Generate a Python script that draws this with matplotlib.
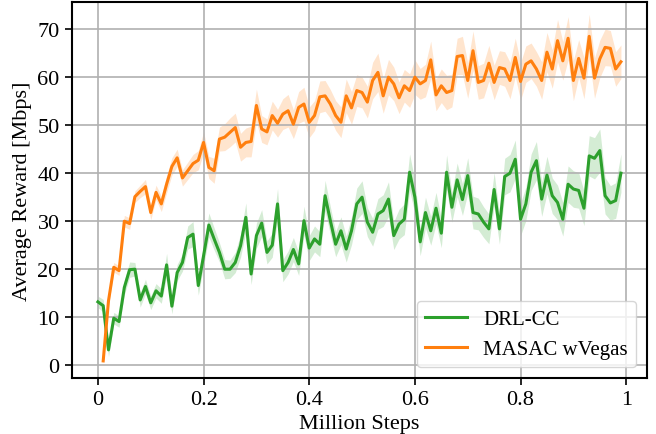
import numpy as np
import matplotlib
matplotlib.use('Agg')
import matplotlib.pyplot as plt

plt.rcParams['font.family'] = ['Liberation Serif', 'DejaVu Serif']
plt.rcParams['font.size'] = 16

# DRL-CC, one point every 0.01 M steps from 0
drl_x = np.arange(100) / 100
drl_mean = [13.1, 12.3, 3.1, 9.7, 9.0, 16.1, 19.8, 19.9, 13.5, 16.3,
            12.9, 15.4, 14.3, 20.8, 12.2, 19.2, 21.3, 26.5, 27.2, 16.5,
            22.7, 29.1, 26.2, 23.4, 19.9, 19.9, 21.3, 24.8, 30.7, 18.9,
            26.9, 29.5, 23.4, 24.9, 33.5, 19.6, 21.3, 24.0, 21.0, 30.0,
            24.3, 26.2, 25.1, 35.2, 30.0, 25.1, 27.9, 24.1, 27.9, 33.5,
            34.9, 29.7, 27.6, 31.4, 32.1, 34.5, 26.9, 29.3, 30.3, 40.1,
            34.9, 25.6, 31.7, 27.9, 32.6, 27.4, 40.1, 32.8, 38.5, 34.4,
            39.4, 31.7, 31.4, 29.7, 28.3, 36.5, 28.3, 39.2, 39.9, 42.8,
            30.3, 33.5, 40.1, 42.5, 34.5, 39.5, 35.2, 33.8, 30.3, 37.6,
            36.6, 36.3, 32.6, 43.5, 43.0, 44.6, 35.2, 33.7, 34.2, 39.9]
drl_err = [1.2, 1.3, 1.4, 1.2, 1.2, 1.5, 1.6, 1.4, 1.5, 1.5,
           1.4, 1.5, 1.5, 2.4, 1.6, 1.7, 1.8, 2.4, 2.6, 2.0,
           2.2, 2.5, 2.3, 2.0, 2.0, 1.9, 2.1, 2.4, 3.0, 2.2,
           2.6, 2.8, 2.4, 2.5, 3.2, 2.3, 2.4, 2.5, 2.4, 3.0,
           2.6, 2.7, 2.6, 3.2, 2.9, 2.6, 2.9, 2.7, 2.9, 3.3,
           3.4, 3.0, 2.9, 3.2, 3.3, 3.6, 2.9, 3.1, 3.2, 3.8,
           3.4, 2.9, 3.2, 3.0, 3.3, 3.0, 3.6, 3.1, 3.5, 3.3,
           3.7, 3.4, 3.3, 3.2, 3.1, 3.5, 3.2, 3.8, 3.9, 4.0,
           3.4, 3.5, 3.8, 4.0, 3.6, 3.9, 3.7, 3.6, 3.5, 3.8,
           3.8, 3.7, 3.6, 4.2, 4.3, 4.5, 3.8, 3.6, 3.7, 4.0]

# MASAC wVegas starts at 0.01
masac_x = np.arange(1, 100) / 100
masac_mean = [0.8, 13.3, 20.3, 19.6, 29.9, 29.4, 35.0, 36.1, 37.1,
              31.7, 35.9, 33.5, 37.6, 41.3, 43.1, 38.9, 40.4, 41.9, 42.6,
              46.3, 41.1, 40.4, 47.0, 47.4, 48.4, 49.4, 45.3, 46.3, 46.5,
              54.0, 49.1, 48.5, 51.9, 50.3, 52.2, 52.9, 50.1, 53.6, 54.3,
              50.5, 51.9, 55.8, 56.0, 54.3, 51.9, 50.5, 56.0, 53.5, 57.1,
              56.7, 54.7, 59.2, 60.9, 56.0, 59.9, 58.5, 55.6, 58.1, 57.1,
              59.9, 58.5, 59.2, 63.5, 56.2, 58.1, 56.7, 57.1, 64.2, 64.4,
              59.2, 65.4, 58.8, 59.2, 62.8, 58.8, 61.9, 61.6, 59.2, 64.0,
              59.0, 62.6, 63.3, 61.6, 59.2, 65.1, 61.6, 67.5, 63.3, 68.0,
              59.2, 63.8, 59.7, 68.4, 59.7, 63.7, 66.1, 65.9, 61.6, 63.1]
masac_err = [0.5, 1.0, 1.0, 1.0, 1.2, 1.2, 1.2, 1.3, 1.5,
             1.5, 1.5, 1.6, 1.8, 1.8, 1.8, 1.7, 1.8, 1.9, 2.0,
             2.2, 2.3, 2.6, 2.5, 2.8, 3.0, 3.0, 2.9, 3.0, 3.2,
             3.4, 2.8, 2.7, 3.0, 2.9, 3.2, 3.4, 3.0, 3.3, 3.5,
             3.2, 3.1, 3.3, 3.2, 3.0, 3.1, 3.2, 3.5, 3.4, 3.3,
             3.2, 3.3, 3.8, 4.0, 3.6, 3.7, 3.5, 3.3, 3.4, 3.5,
             3.6, 3.2, 3.4, 3.9, 3.3, 3.5, 3.6, 3.4, 3.8, 4.0,
             3.7, 4.1, 3.5, 3.6, 3.7, 3.6, 3.5, 3.6, 3.8, 4.0,
             3.9, 3.8, 3.7, 3.6, 3.9, 4.1, 4.0, 4.4, 4.0, 4.5,
             4.2, 3.9, 4.3, 4.6, 4.2, 3.9, 3.8, 3.7, 3.6, 3.5]

drl_mean = np.array(drl_mean)
drl_err = np.array(drl_err)
masac_mean = np.array(masac_mean)
masac_err = np.array(masac_err)

fig = plt.figure(figsize=(6.56, 4.35), dpi=100)
ax = fig.add_axes([0.109, 0.1294, 0.877, 0.8626])

ax.plot(drl_x, drl_mean, color='#2ca02c', lw=2.2, label='DRL-CC')
ax.fill_between(drl_x, drl_mean - drl_err, drl_mean + drl_err,
                color='#2ca02c', alpha=0.2, lw=0)
ax.plot(masac_x, masac_mean, color='#ff7f0e', lw=2.2, label='MASAC wVegas')
ax.fill_between(masac_x, masac_mean - masac_err, masac_mean + masac_err,
                color='#ff7f0e', alpha=0.2, lw=0)

ax.set_xlim(-0.05, 1.039)
ax.set_ylim(-2.7, 75.45)
ax.set_xticks([0, 0.2, 0.4, 0.6, 0.8, 1])
ax.set_xticklabels(['0', '0.2', '0.4', '0.6', '0.8', '1'])
ax.set_yticks(range(0, 80, 10))
ax.grid(True, color='#b0b0b0', lw=1.2)
for s in ax.spines.values():
    s.set_linewidth(1.5)
ax.tick_params(width=1.2, length=5)

ax.set_xlabel('Million Steps')
ax.set_ylabel('Average Reward [Mbps]')
ax.legend(loc='lower right', fontsize=15)

fig.savefig('out.png', dpi=100)
